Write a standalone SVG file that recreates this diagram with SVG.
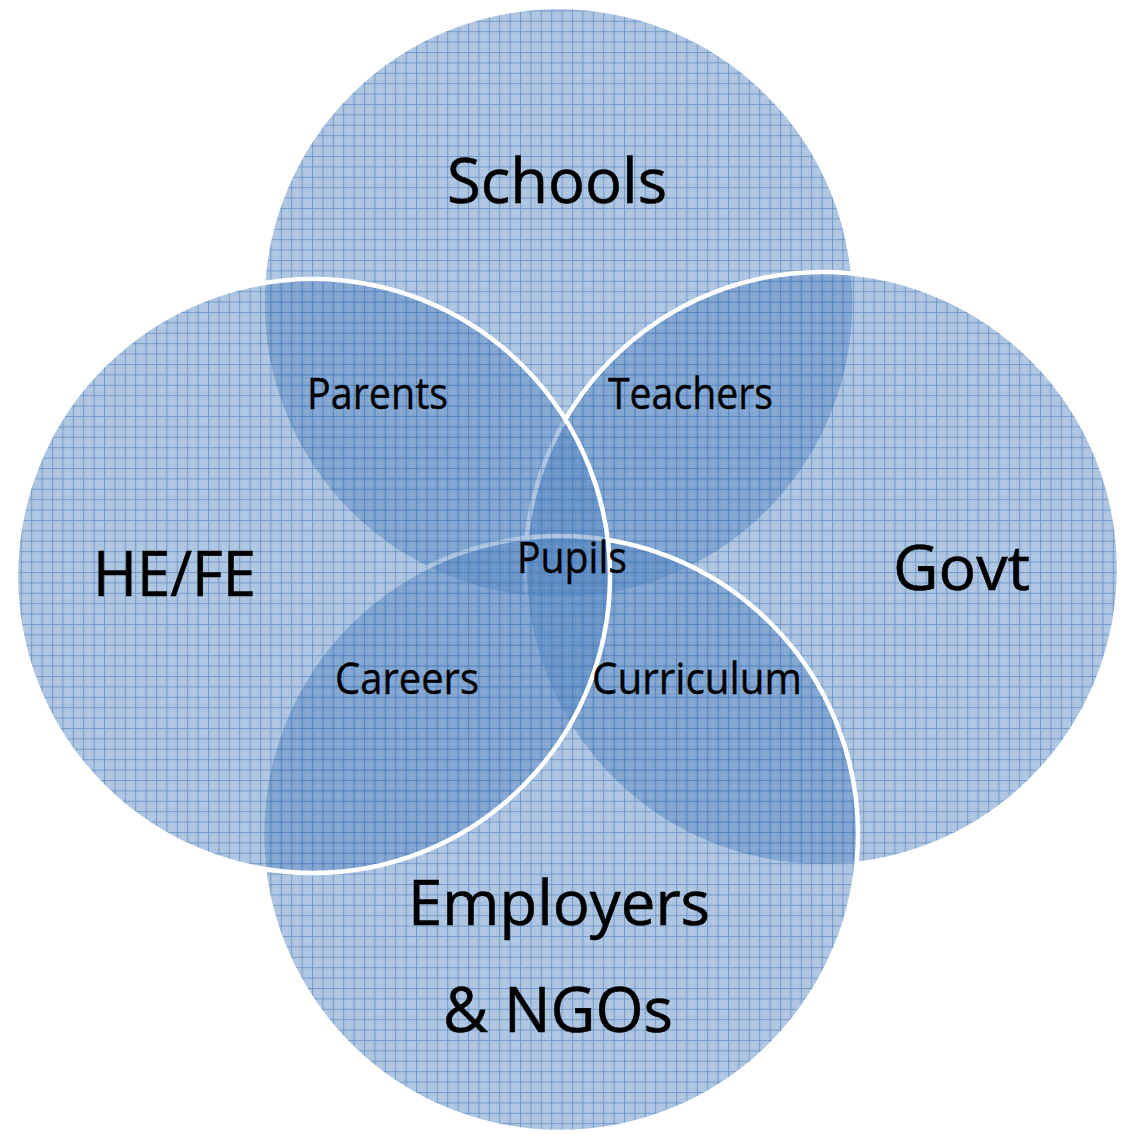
<svg xmlns="http://www.w3.org/2000/svg" width="1121" height="1135" viewBox="0 0 1121 1135">
  <style>
    .c { fill: url(#grid); stroke: #ffffff; stroke-width: 4.5; }
    .big { font-family: "Open Sans", "Liberation Sans", sans-serif; font-size: 63px; fill: #000; stroke: #000; stroke-width: 0.6; }
    .small { font-family: "Open Sans", "Liberation Sans", sans-serif; font-size: 44px; fill: #000; stroke: #000; stroke-width: 0.4; }
  </style>
  <defs>
    <pattern id="grid" width="10.4" height="10.4" patternUnits="userSpaceOnUse">
      <rect width="10.4" height="10.4" fill="#4F81BD" fill-opacity="0.46"/>
      <path d="M0 0.5H10.4M0.5 0V10.4" stroke="#4F81BD" stroke-opacity="0.65" stroke-width="1"/>
      <path d="M0 5.7H10.4M5.7 0V10.4" stroke="#ffffff" stroke-opacity="0.1" stroke-width="1" stroke-dasharray="1 1"/>
    </pattern>
  </defs>
  <rect width="1121" height="1135" fill="#ffffff"/>

  <g id="schools">
    <circle class="c" cx="558.5" cy="303" r="296"/>
    <text class="big" x="447" y="203" textLength="220" lengthAdjust="spacingAndGlyphs">Schools</text>
  </g>
  <g id="govt">
    <circle class="c" cx="822" cy="569" r="297"/>
    <text class="big" x="893" y="590" textLength="137" lengthAdjust="spacingAndGlyphs">Govt</text>
  </g>
  <g id="employers">
    <circle class="c" cx="560" cy="834" r="298"/>
    <text class="big" x="408" y="925" textLength="302" lengthAdjust="spacingAndGlyphs">Employers</text>
    <text class="big" x="443" y="1032" textLength="230" lengthAdjust="spacingAndGlyphs">&amp; NGOs</text>
  </g>
  <g id="hefe">
    <circle class="c" cx="313" cy="576" r="297"/>
    <text class="big" x="93" y="596" textLength="163" lengthAdjust="spacingAndGlyphs">HE/FE</text>
  </g>

  <g id="overlap-labels">
    <text class="small" x="307" y="409" textLength="141" lengthAdjust="spacingAndGlyphs">Parents</text>
    <text class="small" x="608" y="409" textLength="165" lengthAdjust="spacingAndGlyphs">Teachers</text>
    <text class="small" x="517" y="573" textLength="110" lengthAdjust="spacingAndGlyphs">Pupils</text>
    <text class="small" x="335" y="694" textLength="144" lengthAdjust="spacingAndGlyphs">Careers</text>
    <text class="small" x="592" y="694" textLength="210" lengthAdjust="spacingAndGlyphs">Curriculum</text>
  </g>
  <g id="connectors"/>
</svg>
